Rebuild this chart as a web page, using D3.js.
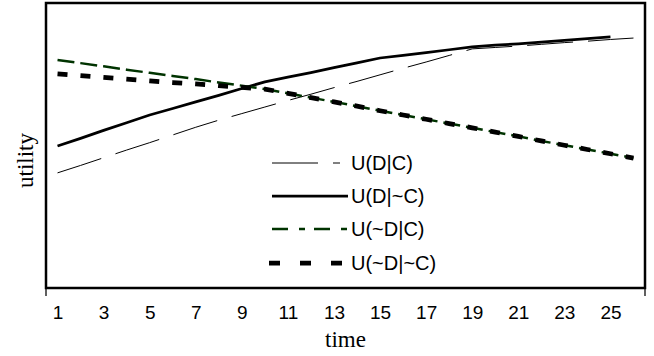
<!DOCTYPE html>
<html>
<head>
<meta charset="utf-8">
<script src="https://cdn.jsdelivr.net/npm/d3@7"></script>
<style>
  body { margin: 0; background: #fff; }
</style>
</head>
<body>
<div id="chart"></div>
<script>
// DATA

const times = d3.range(1, 27);               // categories 1..26
const tickLabels = [1, 3, 5, 7, 9, 11, 13, 15, 17, 19, 21, 23, 25];

const uDC = [40.4, 43.0, 45.7, 48.4, 51.0, 53.7, 56.4, 58.9, 61.2, 63.5, 65.8, 68.0, 70.3,
             72.5, 74.8, 77.1, 79.3, 81.6, 83.9, 84.4, 84.9, 85.5, 86.1, 86.6, 87.2, 87.7];
const uDnC = [49.8, 52.5, 55.3, 58.0, 60.7, 63.0, 65.3, 67.6, 70.0, 72.3, 74.0, 75.6, 77.3,
              79.0, 80.7, 81.6, 82.6, 83.6, 84.6, 85.2, 85.7, 86.3, 86.9, 87.5, 88.1];
const unDC = [80.0, 78.9, 77.8, 76.6, 75.5, 74.4, 73.3, 72.1, 71.0, 69.8, 68.3, 66.8, 65.3,
              63.8, 62.2, 60.7, 59.2, 57.7, 56.2, 54.7, 53.2, 51.6, 50.1, 48.6, 47.1, 45.6];
const unDnC = [75.1, 74.5, 73.9, 73.3, 72.7, 72.1, 71.6, 71.0, 70.4, 69.8, 68.3, 66.8, 65.3,
               63.8, 62.2, 60.7, 59.2, 57.7, 56.2, 54.7, 53.2, 51.6, 50.1, 48.6, 47.1, 45.6];

const seriesNames = ["U(D|C)", "U(D|~C)", "U(~D|C)", "U(~D|~C)"];

// SETUP

const setup = { width: 654, height: 356, left: 46, right: 645, top: 3, bottom: 288 };

const styles = [
  { values: uDC,   color: "#000", width: 1,    dash: "46,15",  legendDash: "46,15" },
  { values: uDnC,  color: "#000", width: 2.75, dash: null,     legendDash: null },
  { values: unDC,  color: "#003300", width: 2.5, dash: "17,6", legendDash: "16,11,6,9" },
  { values: unDnC, color: "#000", width: 4.75, dash: "10,13",  legendDash: "11,20" }
];

const svg = d3.select("#chart")
  .append("svg")
  .attr("width", setup.width)
  .attr("height", setup.height);

const x = d3.scalePoint()
  .domain(times)
  .range([setup.left, setup.right])
  .padding(0.5);

const y = d3.scaleLinear()
  .domain([0, 100])
  .range([setup.bottom, setup.top]);

// SERIES

const line = d3.line()
  .x((d, i) => x(times[i]))
  .y(d => y(d));

styles.forEach(s => {
  svg.append("path")
    .attr("d", line(s.values))
    .attr("fill", "none")
    .attr("stroke", s.color)
    .attr("stroke-width", s.width)
    .attr("stroke-dasharray", s.dash)
    .attr("stroke-linejoin", "round");
});

// FRAME

svg.append("rect")
  .attr("x", setup.left)
  .attr("y", setup.top)
  .attr("width", setup.right - setup.left)
  .attr("height", setup.bottom - setup.top)
  .attr("fill", "none")
  .attr("stroke", "#000")
  .attr("stroke-width", 2.5);

// X AXIS

const xAxis = svg.append("g")
  .attr("transform", `translate(0,${setup.bottom})`)
  .call(d3.axisBottom(x).tickValues(tickLabels).tickSize(0).tickPadding(18));

xAxis.select(".domain").remove();
xAxis.selectAll("text")
  .style("font-family", "'Liberation Sans', Arial, sans-serif")
  .style("font-size", "19px")
  .attr("fill", "#000");

// end ticks at both ends of the category axis
x.range().forEach(px => {
  svg.append("line")
    .attr("x1", px).attr("x2", px)
    .attr("y1", setup.bottom).attr("y2", setup.bottom + 8)
    .attr("stroke", "#000")
    .attr("stroke-width", 1.25);
});

// AXIS TITLES

svg.append("text")
  .attr("x", (setup.left + setup.right) / 2)
  .attr("y", 347)
  .attr("text-anchor", "middle")
  .style("font-family", "'Liberation Serif', 'Times New Roman', serif")
  .style("font-size", "23px")
  .text("time");

svg.append("text")
  .attr("transform", `translate(33,${(setup.top + setup.bottom) / 2 + 15}) rotate(-90)`)
  .attr("text-anchor", "middle")
  .style("font-family", "'Liberation Serif', 'Times New Roman', serif")
  .style("font-size", "23px")
  .text("utility");

// LEGEND

const legendRows = [163, 196, 229, 263];
const legendLineEnd = [340, 348, 347, 342];

seriesNames.forEach((name, i) => {
  const s = styles[i];
  svg.append("line")
    .attr("x1", i === 3 ? 269 : 272)
    .attr("x2", legendLineEnd[i])
    .attr("y1", legendRows[i])
    .attr("y2", legendRows[i])
    .attr("stroke", s.color)
    .attr("stroke-width", s.width)
    .attr("stroke-dasharray", s.legendDash);

  svg.append("text")
    .attr("x", 351)
    .attr("y", legendRows[i])
    .attr("dy", "0.35em")
    .style("font-family", "'Liberation Sans', Arial, sans-serif")
    .style("font-size", "20px")
    .text(name);
});
</script>
</body>
</html>
